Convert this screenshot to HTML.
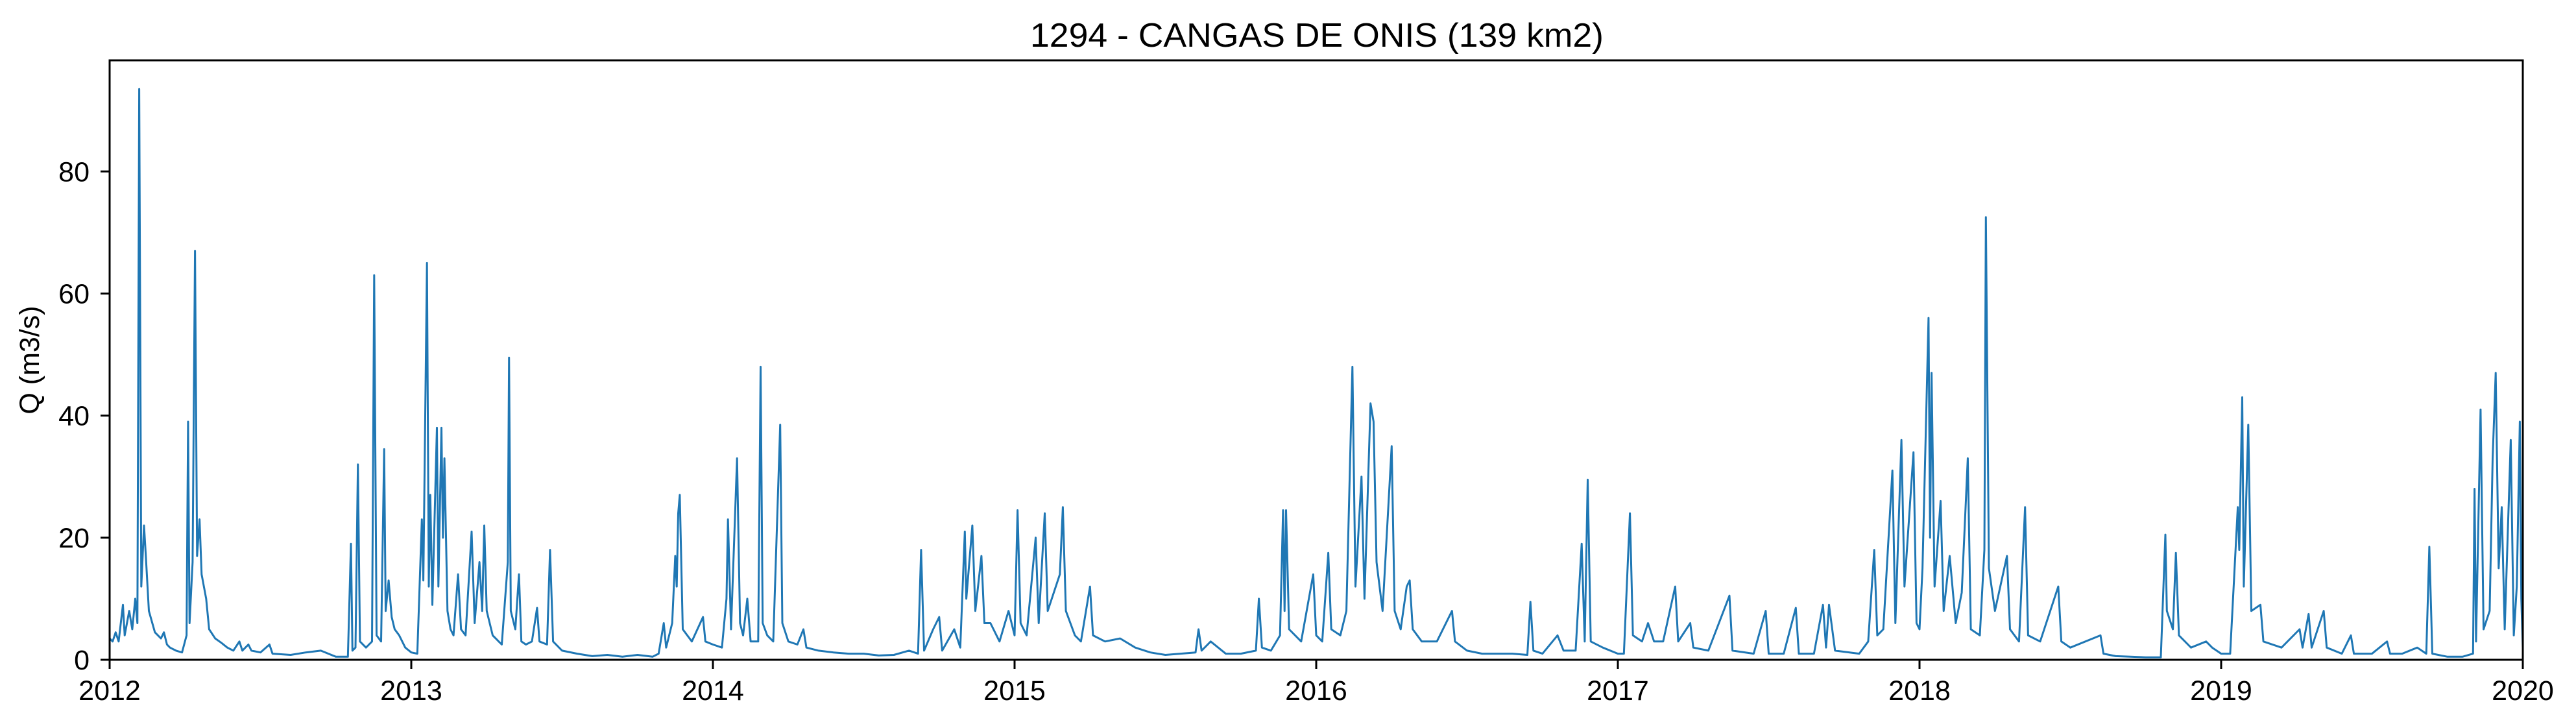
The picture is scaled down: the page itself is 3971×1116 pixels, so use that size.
<!DOCTYPE html>
<html><head><meta charset="utf-8">
<style>
html,body{margin:0;padding:0;background:#fff;}
svg{display:block;font-family:"Liberation Sans","DejaVu Sans",sans-serif;}
</style></head>
<body>
<svg id="chart" width="3971" height="1116" viewBox="0 0 3971 1116" xmlns="http://www.w3.org/2000/svg">
<rect width="3971" height="1116" fill="#fff"/>
<text x="2030" y="72" font-size="52" text-anchor="middle" textLength="884" lengthAdjust="spacingAndGlyphs" fill="#000">1294 - CANGAS DE ONIS (139 km2)</text>
<text x="0" y="0" font-size="43" text-anchor="middle" transform="translate(60,555) rotate(-90)" fill="#000">Q (m3/s)</text>
<g id="ticks"></g>
<path id="series" fill="none" stroke="#1f77b4" stroke-width="3" stroke-linejoin="round"/>
<rect x="169" y="93" width="3720" height="924" fill="none" stroke="#000" stroke-width="3"/>
</svg>
<script>
const yTicks = [0, 20, 40, 60, 80];
const xTicks = [2012, 2013, 2014, 2015, 2016, 2017, 2018, 2019, 2020];
const t2012 = [2012.0,2012.01,2012.02,2012.03,2012.044,2012.05,2012.065,2012.075,2012.085,2012.092,2012.098,2012.105,2012.114,2012.12,2012.13,2012.15,2012.17,2012.18,2012.19,2012.2,2012.22,2012.24,2012.255,2012.26,2012.265,2012.275,2012.283,2012.29,2012.298,2012.305,2012.32,2012.33,2012.35,2012.37,2012.39,2012.41,2012.43,2012.44,2012.46,2012.47,2012.5,2012.53,2012.54,2012.6,2012.65,2012.7,2012.75,2012.79,2012.8,2012.805,2012.815,2012.823,2012.83,2012.85,2012.87,2012.877,2012.885,2012.9,2012.91,2012.915,2012.925,2012.935,2012.945,2012.96,2012.98];
const q2012 = [3.5,3,4.5,3,9,4,8,5,10,6,93.5,12,22,17,8,4.5,3.5,4.5,2.5,2,1.5,1.2,4,39,6,16,67,17,23,14,10,5,3.5,2.8,2,1.5,3,1.5,2.5,1.5,1.2,2.5,1,0.8,1.2,1.5,0.5,0.5,19,1.5,2,32,3,2,3,63,4,3,34.5,8,13,7,5,4,2];
const t2013 = [2013.0,2013.02,2013.035,2013.04,2013.052,2013.058,2013.063,2013.07,2013.085,2013.09,2013.1,2013.105,2013.11,2013.12,2013.13,2013.14,2013.155,2013.165,2013.18,2013.2,2013.21,2013.226,2013.235,2013.242,2013.25,2013.27,2013.29,2013.3,2013.32,2013.324,2013.33,2013.345,2013.357,2013.365,2013.38,2013.4,2013.417,2013.425,2013.45,2013.46,2013.47,2013.5,2013.55,2013.6,2013.65,2013.7,2013.75,2013.8,2013.82,2013.837,2013.845,2013.865,2013.875,2013.88,2013.885,2013.89,2013.9,2013.93,2013.967,2013.975];
const q2013 = [1.2,1,23,13,65,12,27,9,38,12,38,20,33,8,5,4,14,5,4,21,6,16,8,22,8,4,3,2.5,16,49.5,8,5,14,3,2.5,3,8.5,3,2.5,18,3,1.5,1,0.6,0.8,0.5,0.8,0.5,1,6,2,6,17,12,24,27,5,3,7,3];
const t2014 = [2014.0,2014.03,2014.045,2014.05,2014.06,2014.08,2014.09,2014.1,2014.114,2014.125,2014.15,2014.158,2014.165,2014.18,2014.2,2014.223,2014.23,2014.25,2014.28,2014.3,2014.31,2014.35,2014.4,2014.45,2014.5,2014.55,2014.6,2014.65,2014.68,2014.69,2014.7,2014.73,2014.75,2014.76,2014.8,2014.82,2014.835,2014.84,2014.86,2014.87,2014.89,2014.9,2014.92,2014.95,2014.98];
const q2014 = [2.5,2,10,23,5,33,6,4,10,3,3,48,6,4,3,38.5,6,3,2.5,5,2,1.5,1.2,1,1,0.7,0.8,1.5,1,18,1.5,5,7,1.5,5,2,21,10,22,8,17,6,6,3,8];
const t2015 = [2015.0,2015.01,2015.02,2015.04,2015.07,2015.08,2015.1,2015.11,2015.15,2015.16,2015.17,2015.2,2015.22,2015.25,2015.26,2015.3,2015.35,2015.4,2015.45,2015.5,2015.55,2015.6,2015.61,2015.62,2015.65,2015.7,2015.75,2015.8,2015.81,2015.82,2015.85,2015.88,2015.89,2015.895,2015.9,2015.91,2015.95,2015.99];
const q2015 = [4,24.5,6,4,20,6,24,8,14,25,8,4,3,12,4,3,3.5,2,1.2,0.8,1,1.2,5,1.5,3,1,1,1.5,10,2,1.5,4,24.5,8,24.5,5,3,14];
const t2016 = [2016.0,2016.02,2016.04,2016.05,2016.08,2016.1,2016.12,2016.13,2016.15,2016.16,2016.18,2016.19,2016.2,2016.22,2016.25,2016.26,2016.28,2016.3,2016.31,2016.32,2016.35,2016.4,2016.45,2016.46,2016.5,2016.55,2016.6,2016.65,2016.7,2016.71,2016.72,2016.75,2016.8,2016.82,2016.86,2016.88,2016.89,2016.9,2016.91,2016.95];
const q2016 = [4,3,17.5,5,4,8,48,12,30,10,42,39,16,8,35,8,5,12,13,5,3,3,8,3,1.5,1,1,1,0.8,9.5,1.5,1,4,1.5,1.5,19,3,29.5,3,2];
const t2017 = [2017.0,2017.02,2017.04,2017.05,2017.08,2017.1,2017.12,2017.15,2017.19,2017.2,2017.24,2017.25,2017.3,2017.37,2017.38,2017.45,2017.49,2017.5,2017.55,2017.59,2017.6,2017.65,2017.68,2017.69,2017.7,2017.72,2017.8,2017.83,2017.85,2017.86,2017.88,2017.91,2017.92,2017.94,2017.95,2017.98,2017.99];
const q2017 = [1,1,24,4,3,6,3,3,12,3,6,2,1.5,10.5,1.5,1,8,1,1,8.5,1,1,9,2,9,1.5,1,3,18,4,5,31,6,36,12,34,6];
const t2018 = [2018.0,2018.01,2018.03,2018.035,2018.04,2018.05,2018.07,2018.08,2018.1,2018.12,2018.14,2018.16,2018.17,2018.2,2018.215,2018.22,2018.23,2018.25,2018.29,2018.3,2018.33,2018.35,2018.36,2018.4,2018.46,2018.47,2018.5,2018.6,2018.61,2018.65,2018.7,2018.75,2018.8,2018.815,2018.82,2018.84,2018.85,2018.86,2018.9,2018.95,2018.97];
const q2018 = [5,15,56,20,47,12,26,8,17,6,11,33,5,4,18,72.5,15,8,17,5,3,25,4,3,12,3,2,4,1,0.6,0.5,0.4,0.4,20.5,8,5,17.5,4,2,3,2];
const t2019 = [2019.0,2019.03,2019.055,2019.06,2019.07,2019.075,2019.09,2019.1,2019.13,2019.14,2019.2,2019.26,2019.27,2019.29,2019.3,2019.34,2019.35,2019.4,2019.43,2019.44,2019.5,2019.55,2019.56,2019.6,2019.65,2019.68,2019.69,2019.7,2019.75,2019.8,2019.835,2019.84,2019.845,2019.86,2019.87,2019.89,2019.9,2019.91,2019.92,2019.93,2019.94,2019.96,2019.97,2019.98,2019.99,2019.995,2020.0];
const q2019 = [1,1,25,18,43,12,38.5,8,9,3,2,5,2,7.5,2,8,2,1,4,1,1,3,1,1,2,1,18.5,1,0.5,0.5,1,28,3,41,5,8,33,47,15,25,5,36,4,12,39,10,2];

const X0 = 169, X1 = 3889, Y0 = 1017, Y1 = 93, YMAX = 98.2;
function xs(t){ return X0 + (t - 2012) / 8 * (X1 - X0); }
function ys(q){ return Y0 - q / YMAX * (Y0 - Y1); }

const svgNS = "http://www.w3.org/2000/svg";
const tg = document.getElementById('ticks');
yTicks.forEach(v => {
  const y = ys(v);
  const l = document.createElementNS(svgNS, 'line');
  l.setAttribute('x1', X0 - 14); l.setAttribute('x2', X0); l.setAttribute('y1', y); l.setAttribute('y2', y);
  l.setAttribute('stroke', '#000'); l.setAttribute('stroke-width', '3');
  
  
  tg.appendChild(l);
  const tx = document.createElementNS(svgNS, 'text');
  tx.setAttribute('x', X0 - 31); tx.setAttribute('y', y + 15);
  tx.setAttribute('font-size', '43'); tx.setAttribute('text-anchor', 'end');
  tx.textContent = v;
  
  
  tg.appendChild(tx);
});
xTicks.forEach(v => {
  const x = xs(v);
  const l = document.createElementNS(svgNS, 'line');
  l.setAttribute('x1', x); l.setAttribute('x2', x); l.setAttribute('y1', Y0); l.setAttribute('y2', Y0 + 14);
  l.setAttribute('stroke', '#000'); l.setAttribute('stroke-width', '3');
  
  
  tg.appendChild(l);
  const tx = document.createElementNS(svgNS, 'text');
  tx.setAttribute('x', x); tx.setAttribute('y', 1079);
  tx.setAttribute('font-size', '43'); tx.setAttribute('text-anchor', 'middle');
  tx.textContent = v;
  
  
  tg.appendChild(tx);
});

const T = [].concat(t2012, t2013, t2014, t2015, t2016, t2017, t2018, t2019);
const Q = [].concat(q2012, q2013, q2014, q2015, q2016, q2017, q2018, q2019);
let d = '';
for (let i = 0; i < T.length; i++) {
  d += (i ? 'L' : 'M') + xs(T[i]).toFixed(1) + ' ' + ys(Q[i]).toFixed(1);
}
document.getElementById('series').setAttribute('d', d);
</script>
</body></html>
